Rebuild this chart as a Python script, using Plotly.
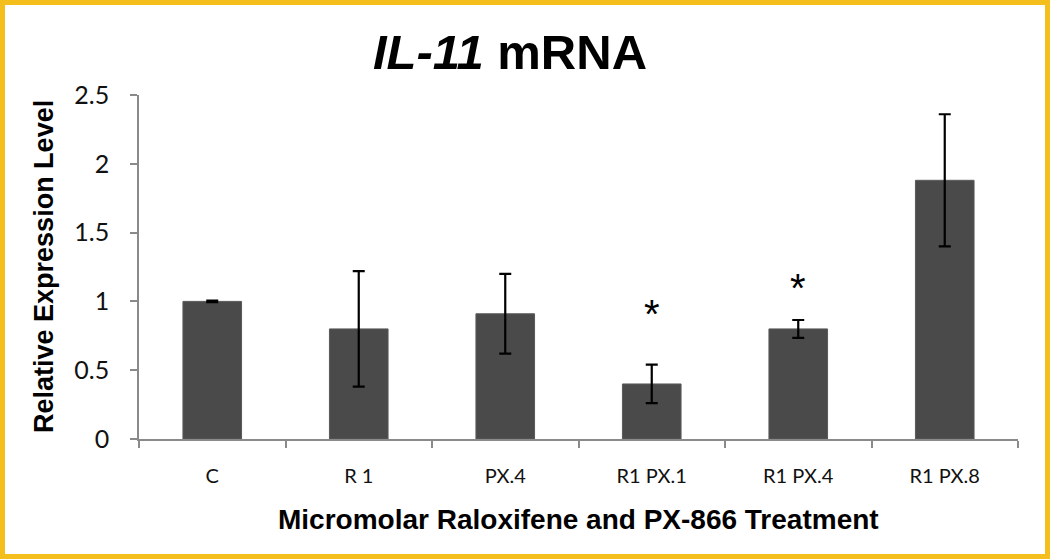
import plotly.graph_objects as go

categories = ["C", "R 1", "PX.4", "R1 PX.1", "R1 PX.4", "R1 PX.8"]
values = [1.0, 0.80, 0.91, 0.40, 0.80, 1.88]
errors = [0.005, 0.42, 0.29, 0.14, 0.065, 0.48]
star_categories = ["R1 PX.1", "R1 PX.4"]
star_y = [0.91, 1.10]
y_ticks = [0, 0.5, 1, 1.5, 2, 2.5]
y_tick_labels = ["0", "0.5", "1", "1.5", "2", "2.5"]

W, H = 1050, 559
ML, MR, MT, MB = 139, 32, 95, 120
PW, PH = W - ML - MR, H - MT - MB

def px_x(p):
    return (p - ML) / PW

def px_y(p):
    return (H - MB - p) / PH

tick_family = "Lato, Open Sans, sans-serif"
bold_font = "Liberation Sans, Arial, sans-serif"

fig = go.Figure()
fig.add_trace(go.Bar(
    x=categories, y=values,
    marker=dict(color="#4a4a4a", line=dict(color="#5a5a5a", width=1)),
    error_y=dict(type="data", array=errors, visible=True, color="#000000",
                 thickness=2.2, width=6),
    width=0.4,
))

for c, s in zip(star_categories, star_y):
    fig.add_annotation(x=c, y=s, xref="x", yref="y", text="*", showarrow=False,
                       font=dict(family=bold_font, size=40, color="#000000"),
                       yanchor="middle")

fig.add_annotation(x=px_x(44), y=0.5, xref="paper", yref="paper",
                   text="<b>Relative Expression Level</b>", textangle=-90,
                   showarrow=False, xanchor="center", yanchor="middle",
                   font=dict(family=bold_font, size=27, color="#000000"))
fig.add_annotation(x=0.5, y=px_y(519), xref="paper", yref="paper",
                   text="<b>Micromolar Raloxifene and PX-866 Treatment</b>",
                   showarrow=False, xanchor="center", yanchor="middle",
                   font=dict(family=bold_font, size=28, color="#000000"))

fig.add_shape(type="rect", xref="paper", yref="paper",
              x0=px_x(2.5), x1=px_x(W - 2.5), y0=px_y(H - 2.5), y1=px_y(2.5),
              line=dict(color="#F4BE1C", width=5), fillcolor="rgba(0,0,0,0)",
              layer="above")

fig.update_layout(
    width=W, height=H,
    margin=dict(l=ML, r=MR, t=MT, b=MB, pad=0),
    paper_bgcolor="white", plot_bgcolor="white",
    showlegend=False,
    title=dict(text="<b><i>IL-11</i> mRNA</b>", x=510 / W, y=1 - 52 / H,
               xanchor="center", yanchor="middle",
               font=dict(family=bold_font, size=49, color="#000000")),
    xaxis=dict(type="category", showline=True, linecolor="#8a8a8a", linewidth=1.5,
               ticks="outside", tickson="boundaries", ticklen=7, tickcolor="#8a8a8a",
               tickwidth=1.5, showgrid=False, zeroline=False,
               tickfont=dict(family=tick_family, size=20, color="#111111"),
               ticklabelstandoff=18),
    yaxis=dict(range=[0, 2.5], tickvals=y_ticks, ticktext=y_tick_labels,
               showline=True, linecolor="#8a8a8a", linewidth=1.5, ticks="outside",
               ticklen=7, tickcolor="#8a8a8a", tickwidth=1.5, showgrid=False,
               zeroline=False,
               tickfont=dict(family=tick_family, size=25, color="#111111"),
               ticklabelstandoff=16),
)

fig.write_html("out.html", config={"displayModeBar": False},
               post_script="document.body.style.margin='0';"
                           "document.body.style.overflow='hidden';")
